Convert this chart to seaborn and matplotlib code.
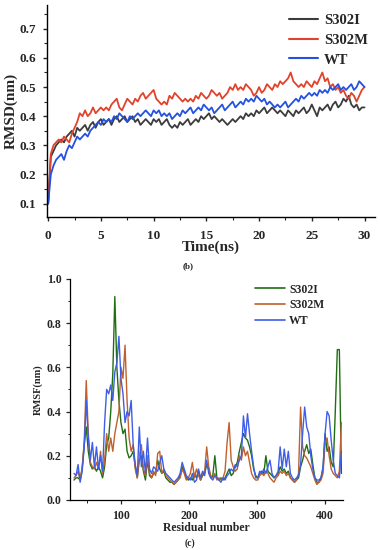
import numpy as np
import pandas as pd
import matplotlib
matplotlib.use("Agg")
import matplotlib.pyplot as plt
import seaborn as sns
from matplotlib.ticker import MultipleLocator

# ---------------- data: RMSD (top panel) ----------------
time_ns = np.linspace(0, 30, 121)
rmsd_s302i = [0.10, 0.26, 0.28, 0.30, 0.31,
              0.32, 0.31, 0.33, 0.34, 0.35, 0.33, 0.36, 0.35, 0.36, 0.37, 0.35, 0.37,
              0.38, 0.36, 0.38, 0.39, 0.37, 0.38, 0.39, 0.37, 0.39, 0.40, 0.38, 0.39,
              0.40, 0.38, 0.39, 0.40, 0.38, 0.39, 0.37, 0.38, 0.39, 0.38, 0.37, 0.39,
              0.38, 0.39, 0.37, 0.38, 0.39, 0.37, 0.36, 0.37, 0.36, 0.38, 0.37, 0.38,
              0.39, 0.37, 0.38, 0.39, 0.38, 0.40, 0.39, 0.40, 0.41, 0.39, 0.40, 0.39,
              0.38, 0.39, 0.38, 0.37, 0.38, 0.39, 0.38, 0.39, 0.40, 0.39, 0.41, 0.40,
              0.41, 0.40, 0.42, 0.41, 0.42, 0.43, 0.41, 0.42, 0.43, 0.42, 0.41, 0.42,
              0.41, 0.40, 0.42, 0.41, 0.40, 0.42, 0.41, 0.42, 0.43, 0.41, 0.42, 0.44,
              0.42, 0.40, 0.43, 0.42, 0.43, 0.44, 0.42, 0.44, 0.45, 0.43, 0.44, 0.46,
              0.45, 0.47, 0.44, 0.43, 0.44, 0.42, 0.43, 0.43]
rmsd_s302m = [0.10, 0.27, 0.30, 0.31, 0.32,
              0.31, 0.33, 0.32, 0.31, 0.34, 0.36, 0.38, 0.41, 0.40, 0.42, 0.40, 0.41,
              0.43, 0.41, 0.42, 0.43, 0.42, 0.43, 0.42, 0.44, 0.45, 0.46, 0.43, 0.42,
              0.44, 0.46, 0.45, 0.44, 0.46, 0.45, 0.47, 0.48, 0.46, 0.47, 0.48, 0.49,
              0.46, 0.45, 0.44, 0.45, 0.44, 0.47, 0.46, 0.48, 0.47, 0.46, 0.45, 0.46,
              0.45, 0.46, 0.45, 0.47, 0.46, 0.48, 0.47, 0.46, 0.47, 0.49, 0.48, 0.47,
              0.48, 0.46, 0.47, 0.48, 0.50, 0.49, 0.51, 0.49, 0.50, 0.49, 0.51, 0.50,
              0.49, 0.47, 0.48, 0.50, 0.48, 0.49, 0.51, 0.50, 0.49, 0.51, 0.50, 0.52,
              0.51, 0.52, 0.53, 0.55, 0.52, 0.51, 0.50, 0.51, 0.50, 0.52, 0.51, 0.50,
              0.52, 0.51, 0.53, 0.55, 0.52, 0.53, 0.50, 0.51, 0.49, 0.50, 0.48, 0.49,
              0.47, 0.46, 0.48, 0.47, 0.45, 0.47, 0.49, 0.50]
rmsd_wt = [0.10, 0.20, 0.23, 0.25, 0.26,
           0.27, 0.25, 0.28, 0.30, 0.29, 0.31, 0.33, 0.32, 0.33, 0.34, 0.33, 0.35,
           0.36, 0.37, 0.38, 0.37, 0.39, 0.38, 0.39, 0.38, 0.40, 0.39, 0.41, 0.40,
           0.39, 0.38, 0.40, 0.39, 0.40, 0.41, 0.40, 0.41, 0.42, 0.41, 0.40, 0.42,
           0.41, 0.42, 0.40, 0.41, 0.40, 0.41, 0.39, 0.40, 0.41, 0.40, 0.42, 0.41,
           0.42, 0.43, 0.41, 0.42, 0.43, 0.42, 0.44, 0.43, 0.42, 0.43, 0.41, 0.42,
           0.43, 0.44, 0.42, 0.43, 0.44, 0.45, 0.43, 0.44, 0.45, 0.44, 0.46, 0.45,
           0.46, 0.45, 0.47, 0.46, 0.45, 0.46, 0.44, 0.45, 0.44, 0.43, 0.44, 0.43,
           0.44, 0.45, 0.43, 0.44, 0.45, 0.46, 0.45, 0.47, 0.46, 0.47, 0.48, 0.47,
           0.48, 0.47, 0.49, 0.48, 0.49, 0.48, 0.50, 0.49, 0.50, 0.51, 0.49, 0.50,
           0.49, 0.50, 0.51, 0.49, 0.50, 0.52, 0.51, 0.50]

# ---------------- data: RMSF (bottom panel) ----------------
residues = np.arange(31, 425, 3)
rmsf_s302i = [0.09, 0.10, 0.10, 0.09, 0.14, 0.25, 0.33, 0.22, 0.16, 0.14,
              0.15, 0.13, 0.15, 0.13, 0.10, 0.15, 0.25, 0.28, 0.40, 0.57,
              0.92, 0.60, 0.45, 0.35, 0.30, 0.32, 0.22, 0.19, 0.20, 0.22,
              0.15, 0.10, 0.18, 0.20, 0.13, 0.09, 0.18, 0.11, 0.10, 0.12,
              0.12, 0.18, 0.14, 0.12, 0.13, 0.10, 0.09, 0.08, 0.08, 0.07,
              0.08, 0.09, 0.11, 0.15, 0.13, 0.10, 0.09, 0.10, 0.09, 0.12,
              0.10, 0.13, 0.09, 0.11, 0.12, 0.16, 0.14, 0.10, 0.11, 0.20,
              0.10, 0.09, 0.10, 0.09, 0.10, 0.12, 0.14, 0.11, 0.12, 0.15,
              0.17, 0.22, 0.26, 0.30, 0.28, 0.27, 0.24, 0.20, 0.14, 0.11,
              0.10, 0.12, 0.13, 0.12, 0.20, 0.13, 0.12, 0.11, 0.10, 0.11,
              0.12, 0.15, 0.13, 0.14, 0.12, 0.13, 0.10, 0.09, 0.08, 0.09,
              0.10, 0.15, 0.18, 0.22, 0.25, 0.21, 0.23, 0.16, 0.10, 0.08,
              0.08, 0.10, 0.14, 0.30, 0.22, 0.24, 0.17, 0.15, 0.40, 0.68, 0.68, 0.12]
rmsf_s302m = [0.10, 0.11, 0.13, 0.09, 0.15, 0.26, 0.54, 0.30, 0.17, 0.15,
              0.14, 0.17, 0.14, 0.22, 0.12, 0.18, 0.30, 0.22, 0.28, 0.22,
              0.30, 0.35, 0.40, 0.60, 0.55, 0.70, 0.45, 0.28, 0.22, 0.25,
              0.14, 0.10, 0.20, 0.25, 0.14, 0.11, 0.20, 0.12, 0.10, 0.13,
              0.11, 0.21, 0.22, 0.12, 0.14, 0.11, 0.10, 0.09, 0.08, 0.07,
              0.08, 0.09, 0.10, 0.14, 0.12, 0.09, 0.10, 0.12, 0.17, 0.10,
              0.14, 0.11, 0.09, 0.12, 0.13, 0.24, 0.15, 0.11, 0.10, 0.12,
              0.09, 0.10, 0.09, 0.10, 0.13, 0.26, 0.35, 0.18, 0.15, 0.13,
              0.14, 0.20, 0.18, 0.24, 0.20, 0.22, 0.17, 0.12, 0.10, 0.09,
              0.09, 0.11, 0.12, 0.11, 0.13, 0.12, 0.10, 0.09, 0.08, 0.10,
              0.11, 0.13, 0.12, 0.13, 0.11, 0.12, 0.10, 0.09, 0.08, 0.09,
              0.12, 0.42, 0.24, 0.20, 0.19, 0.17, 0.15, 0.12, 0.09, 0.07,
              0.08, 0.09, 0.12, 0.26, 0.28, 0.20, 0.14, 0.12, 0.11, 0.10, 0.13, 0.35]
rmsf_wt = [0.12, 0.11, 0.16, 0.08, 0.13, 0.24, 0.45, 0.28, 0.18, 0.26,
           0.15, 0.24, 0.14, 0.20, 0.13, 0.35, 0.50, 0.48, 0.52, 0.45,
           0.58, 0.62, 0.74, 0.55, 0.48, 0.35, 0.40, 0.38, 0.45, 0.25,
           0.16, 0.11, 0.33, 0.15, 0.22, 0.12, 0.28, 0.14, 0.12, 0.15,
           0.14, 0.13, 0.17, 0.20, 0.14, 0.12, 0.11, 0.10, 0.09, 0.08,
           0.09, 0.10, 0.12, 0.17, 0.14, 0.11, 0.10, 0.09, 0.12, 0.08,
           0.09, 0.14, 0.10, 0.13, 0.11, 0.18, 0.12, 0.10, 0.09, 0.11,
           0.10, 0.09, 0.08, 0.10, 0.09, 0.11, 0.12, 0.14, 0.13, 0.16,
           0.15, 0.18, 0.20, 0.38, 0.28, 0.39, 0.30, 0.22, 0.15, 0.10,
           0.10, 0.13, 0.12, 0.14, 0.12, 0.15, 0.18, 0.12, 0.10, 0.11,
           0.13, 0.24, 0.14, 0.23, 0.15, 0.22, 0.12, 0.10, 0.09, 0.10,
           0.11, 0.16, 0.30, 0.42, 0.33, 0.30, 0.20, 0.14, 0.10, 0.09,
           0.09, 0.10, 0.15, 0.30, 0.40, 0.38, 0.27, 0.18, 0.12, 0.11, 0.10, 0.22]

labels = ["S302I", "S302M", "WT"]

df_rmsd = pd.concat([
    pd.DataFrame({"t": time_ns, "v": rmsd_s302i, "sys": labels[0]}),
    pd.DataFrame({"t": time_ns, "v": rmsd_s302m, "sys": labels[1]}),
    pd.DataFrame({"t": time_ns, "v": rmsd_wt, "sys": labels[2]}),
])
df_rmsf = pd.concat([
    pd.DataFrame({"r": residues, "v": rmsf_s302i, "sys": labels[0]}),
    pd.DataFrame({"r": residues, "v": rmsf_s302m, "sys": labels[1]}),
    pd.DataFrame({"r": residues, "v": rmsf_wt, "sys": labels[2]}),
])

sns.set_style("ticks")
plt.rcParams["font.family"] = ["Liberation Serif", "DejaVu Serif"]
plt.rcParams["font.weight"] = "bold"

fig = plt.figure(figsize=(3.8, 5.5), dpi=100)

# ---------------- top panel ----------------
ax1 = fig.add_axes([0.124, 0.605, 0.863, 0.385])
pal1 = {"S302I": "#3c3c3c", "S302M": "#e0432c", "WT": "#2452e0"}
sns.lineplot(data=df_rmsd, x="t", y="v", hue="sys", palette=pal1,
             linewidth=1.3, ax=ax1, legend=True)
ax1.set_xlim(-0.1, 31)
ax1.set_ylim(0.053, 0.78)
ax1.xaxis.set_major_locator(MultipleLocator(5))
ax1.xaxis.set_minor_locator(MultipleLocator(2.5))
ax1.yaxis.set_minor_locator(MultipleLocator(0.05))
ax1.set_yticks([0.1, 0.2, 0.3, 0.4, 0.5, 0.6, 0.7])
ax1.set_yticklabels(["0.1", "0.2", "0.3", "0.4", "0.5", "0.6", "0.7"])
ax1.tick_params(axis="both", which="major", labelsize=9.5, direction="out",
                length=3, width=1)
ax1.tick_params(axis="x", which="major", pad=6)
ax1.tick_params(axis="y", which="major", pad=5)
ax1.tick_params(axis="both", which="minor", direction="out", length=2, width=0.8)
for lab in ax1.get_xticklabels() + ax1.get_yticklabels():
    lab.set_fontweight("bold")
ax1.set_xlabel("Time(ns)", fontsize=11, fontweight="bold", labelpad=-1)
ax1.set_ylabel("RMSD(nm)", fontsize=11, fontweight="bold", labelpad=1)
for s in ["top", "right"]:
    ax1.spines[s].set_visible(False)
for s in ["left", "bottom"]:
    ax1.spines[s].set_linewidth(1.0)
    ax1.spines[s].set_color("black")
leg1 = ax1.legend(loc="upper right", frameon=False, fontsize=10.5,
                  handlelength=2.0, handletextpad=0.4, labelspacing=0.45,
                  borderaxespad=0.1, bbox_to_anchor=(1.0, 0.995))
for t in leg1.get_texts():
    t.set_fontweight("bold")
for h in leg1.get_lines():
    h.set_linewidth(1.5)
fig.text(0.495, 1 - 266 / 550, "(b)", ha="center", va="center", fontsize=6.5)

# ---------------- bottom panel ----------------
ax2 = fig.add_axes([0.184, 0.091, 0.718, 0.402])
pal2 = {"S302I": "#1f6e12", "S302M": "#c0602e", "WT": "#3e5ee8"}
sns.lineplot(data=df_rmsf, x="r", y="v", hue="sys", palette=pal2,
             linewidth=1.0, ax=ax2, legend=True)
ax2.set_xlim(25, 426)
ax2.set_ylim(0.0, 1.0)
ax2.xaxis.set_major_locator(MultipleLocator(100))
ax2.xaxis.set_minor_locator(MultipleLocator(50))
ax2.yaxis.set_major_locator(MultipleLocator(0.2))
ax2.yaxis.set_minor_locator(MultipleLocator(0.1))
ax2.tick_params(axis="both", which="major", labelsize=8.5, direction="out",
                length=3, width=0.9)
ax2.tick_params(axis="x", which="major", pad=4)
ax2.tick_params(axis="y", which="major", pad=3)
ax2.tick_params(axis="both", which="minor", direction="out", length=1.8, width=0.7)
for lab in ax2.get_xticklabels() + ax2.get_yticklabels():
    lab.set_fontweight("bold")
ax2.set_xlabel("Residual number", fontsize=8.5, fontweight="bold", labelpad=0)
ax2.set_ylabel("RMSF(nm)", fontsize=7.5, fontweight="bold", labelpad=3)
for s in ["top", "right"]:
    ax2.spines[s].set_visible(False)
for s in ["left", "bottom"]:
    ax2.spines[s].set_linewidth(0.9)
    ax2.spines[s].set_color("black")
leg2 = ax2.legend(loc="upper left", frameon=False, fontsize=8.5,
                  handlelength=2.6, handletextpad=0.3, labelspacing=0.3,
                  borderaxespad=0.0, bbox_to_anchor=(0.66, 1.0))
for t in leg2.get_texts():
    t.set_fontweight("bold")
for h in leg2.get_lines():
    h.set_linewidth(1.2)
fig.text(0.5, 1 - 543 / 550, "(c)", ha="center", va="center", fontsize=7)

fig.savefig("out.png", dpi=100)
